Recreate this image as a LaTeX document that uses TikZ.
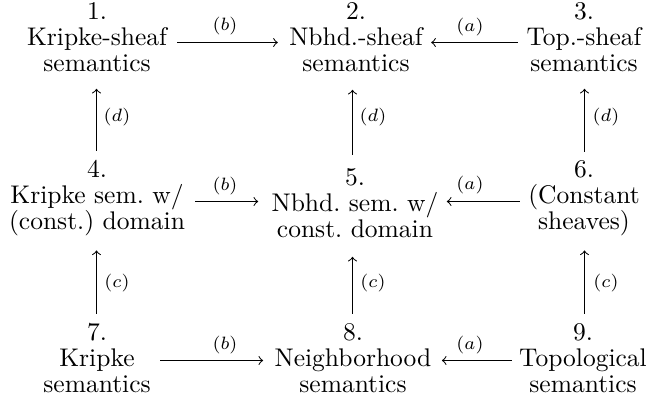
\documentclass[tikz,border=0pt]{standalone}
\newdimen\pxu \pxu=0.392pt
\newcommand\semfont{\fontsize{10}{10}\selectfont\lineskiplimit=-20pt\relax\lineskip=0pt\relax}
\tikzset{
  sem/.style={align=center, inner sep=0pt, anchor=base, font=\semfont},
  lab/.style={inner sep=0pt, font=\scriptsize},
  arr/.style={->, line width=0.4pt},
}
\begin{document}
\begin{tikzpicture}[x=0.392pt, y=-0.392pt]
\useasboundingbox (0,0) rectangle (651,406);
% nodes (anchored at the baseline of their last line)
\node[sem] (n1) at (97,71)  {1.\\Kripke-sheaf\\semantics};
\node[sem] (n2) at (356,71) {2.\\Nbhd.-sheaf\\semantics};
\node[sem] (n3) at (584,71) {3.\\Top.-sheaf\\semantics};
\node[sem] (n4) at (97,229)  {4.\\Kripke sem.\ w/\\(const.)\ domain};
\node[sem] (n5) at (355,237) {5.\\Nbhd.\ sem.\ w/\\const.\ domain};
\node[sem] (n6) at (584,229) {6.\\(Constant\\sheaves)};
\node[sem] (n7) at (97,392)  {7.\\Kripke\\semantics};
\node[sem] (n8) at (353,392) {8.\\Neighborhood\\semantics};
\node[sem] (n9) at (583,392) {9.\\Topological\\semantics};
% row / column guide coordinates
\coordinate (h1) at (0,42.5);
\coordinate (h2) at (0,201.5);
\coordinate (h3) at (0,360.5);
\coordinate (v1) at (96.5,0);
\coordinate (v2) at (352.5,0);
\coordinate (v3) at (584.5,0);
% horizontal arrows
\draw[arr, shorten <=10\pxu, shorten >=11\pxu] (n1.east |- h1) -- (n2.west |- h1);
\draw[arr, shorten <=8.5\pxu, shorten >=8\pxu] (n3.west |- h1) -- (n2.east |- h1);
\draw[arr, shorten <=10\pxu, shorten >=13\pxu] (n4.east |- h2) -- (n5.west |- h2);
\draw[arr, shorten <=8\pxu, shorten >=8\pxu] (n6.west |- h2) -- (n5.east |- h2);
\draw[arr, shorten <=9\pxu, shorten >=11\pxu] (n7.east |- h3) -- (n8.west |- h3);
\draw[arr, shorten <=7\pxu, shorten >=10\pxu] (n9.west |- h3) -- (n8.east |- h3);
% vertical arrows
\draw[arr, shorten <=9.6\pxu, shorten >=17\pxu] (n4.north -| v1) -- (n1.south -| v1);
\draw[arr, shorten <=13.6\pxu, shorten >=18\pxu] (n5.north -| v2) -- (n2.south -| v2);
\draw[arr, shorten <=8.6\pxu, shorten >=17\pxu] (n6.north -| v3) -- (n3.south -| v3);
\draw[arr, shorten <=9.6\pxu, shorten >=14.6\pxu] (n7.north -| v1) -- (n4.south -| v1);
\draw[arr, shorten <=9.6\pxu, shorten >=19\pxu] (n8.north -| v2) -- (n5.south -| v2);
\draw[arr, shorten <=9.6\pxu, shorten >=14.6\pxu] (n9.north -| v3) -- (n6.south -| v3);
% labels
\node[lab] (lb1) at (225,26)  {$(b)$};
\node[lab] (la1) at (470,27)  {$(a)$};
\node[lab] (lb2) at (225,186) {$(b)$};
\node[lab] (la2) at (470,185) {$(a)$};
\node[lab] (lb3) at (225,345) {$(b)$};
\node[lab] (la3) at (470,345) {$(a)$};
\node[lab] (ld1) at (117,117) {$(d)$};
\node[lab] (ld2) at (373,117) {$(d)$};
\node[lab] (ld3) at (606,117) {$(d)$};
\node[lab] (lc1) at (117,283) {$(c)$};
\node[lab] (lc2) at (373,283) {$(c)$};
\node[lab] (lc3) at (606,283) {$(c)$};
\end{tikzpicture}
\end{document}
